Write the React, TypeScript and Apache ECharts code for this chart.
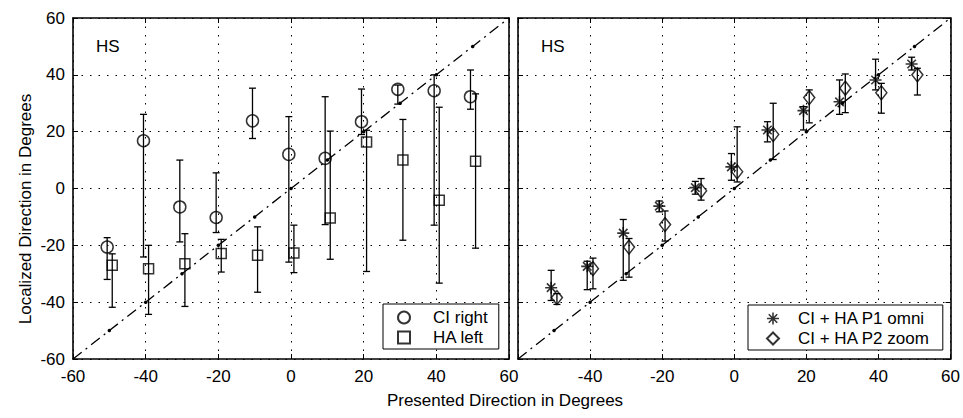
import React, { useEffect, useRef } from "react";
import * as echarts from "echarts";

const presented = [-50, -40, -30, -20, -10, 0, 10, 20, 30, 40, 50];
const axisTicks = [-60, -40, -20, 0, 20, 40, 60];
const identityX = [-60, -50, -40, -30, -20, -10, 0, 10, 20, 30, 40, 50, 60];

// Left panel: CI right (circles)
const ciRightMean = [-20.6, 16.8, -6.5, -10.2, 23.8, 12, 10.6, 23.5, 34.9, 34.4, 32.3];
const ciRightLow = [-32, -24.1, -18.8, -15.5, 17.6, -25.9, -12.7, 19, 29.7, -12.9, 27.9];
const ciRightHigh = [-17.3, 26.1, 10, 5.5, 35.3, 25.3, 32.3, 35, 36.4, 40, 41.7];

// Left panel: HA left (squares)
const haLeftMean = [-27, -28.2, -26.5, -22.9, -23.5, -22.7, -10.4, 16.4, 10, -4.1, 9.6];
const haLeftLow = [-41.8, -44.3, -41.5, -29.4, -36.5, -29.6, -24.9, -29.2, -18.2, -33.3, -21];
const haLeftHigh = [-23, -20, -15.9, -17.9, -13.5, -12.9, 20.2, 20.5, 24.3, 28.6, 33.3];

// Right panel: CI + HA P1 omni (asterisks)
const p1Mean = [-34.9, -27.4, -15.7, -6.2, 0.3, 7.6, 20.6, 27.4, 30.5, 38.2, 43.8];
const p1Low = [-39.4, -35.6, -32.3, -8.2, -2, 2.9, 16.4, 20.6, 26.1, 34.7, 41.7];
const p1High = [-28.8, -25.6, -10.9, -4.4, 2.5, 12.3, 23.5, 28.8, 38.2, 45.5, 46.2];

// Right panel: CI + HA P2 zoom (diamonds)
const p2Mean = [-38.4, -28.2, -20.6, -12.7, -0.8, 5.9, 19, 32, 35.3, 33.7, 40];
const p2Low = [-40.8, -35.3, -31.2, -18.5, -4.1, 2.3, 10.2, 23.1, 26.7, 26.5, 32.9];
const p2High = [-37, -24.5, -17.6, -7.9, 3.5, 21.7, 30, 34.7, 40.3, 37, 42.3];

const FONT = "'Liberation Sans', Arial, Helvetica, sans-serif";
const FS = 17;
const ASTERISK =
  "path://M8.7 0L11.3 0L11.3 20L8.7 20Z M0 8.7L20 8.7L20 11.3L0 11.3Z M3.85 2.0L18.0 16.15L16.15 18.0L2.0 3.85Z M18.0 3.85L3.85 18.0L2.0 16.15L16.15 2.0Z";

const pts = (mean: number[], off: number) => presented.map((x, i) => [x + off, mean[i]]);
const errs = (lo: number[], hi: number[], off: number) =>
  presented.map((x, i) => [x + off, lo[i], hi[i]]);

const errorBarItem = (params: any, api: any) => {
  const x = api.value(0);
  const top = api.coord([x, api.value(2)]);
  const bot = api.coord([x, api.value(1)]);
  const hw = 3.5;
  const style = { stroke: "#000", lineWidth: 1.3 };
  return {
    type: "group",
    children: [
      { type: "line", shape: { x1: top[0], y1: top[1], x2: bot[0], y2: bot[1] }, style },
      { type: "line", shape: { x1: top[0] - hw, y1: top[1], x2: top[0] + hw, y2: top[1] }, style },
      { type: "line", shape: { x1: bot[0] - hw, y1: bot[1], x2: bot[0] + hw, y2: bot[1] }, style },
    ],
  };
};

const lineStyle = { color: "#000", width: 1.6 };
const tickStyle = { show: true, inside: true, length: 5, lineStyle: { color: "#000", width: 1 } };
const splitStyle = { show: true, lineStyle: { color: "#000", width: 1, type: [1.5, 7] } };

function makeX(gridIndex: number, labels: boolean, hideMin: boolean) {
  return [
    {
      type: "value", gridIndex, min: -60, max: 60, interval: 20, position: "bottom",
      axisLine: { show: true, onZero: false, lineStyle },
      axisTick: tickStyle,
      axisLabel: {
        show: labels, color: "#000", fontSize: FS, fontFamily: FONT, margin: 9,
        formatter: (v: number) => (hideMin && v === axisTicks[0] ? "" : String(v)),
      },
      splitLine: splitStyle,
    },
    {
      type: "value", gridIndex, min: -60, max: 60, interval: 20, position: "top",
      axisLine: { show: true, onZero: false, lineStyle },
      axisTick: tickStyle, axisLabel: { show: false }, splitLine: { show: false },
    },
  ];
}
function makeY(gridIndex: number, labels: boolean) {
  return [
    {
      type: "value", gridIndex, min: -60, max: 60, interval: 20, position: "left",
      axisLine: { show: true, onZero: false, lineStyle },
      axisTick: tickStyle,
      axisLabel: { show: labels, color: "#000", fontSize: FS, fontFamily: FONT, margin: 8 },
      splitLine: splitStyle,
    },
    {
      type: "value", gridIndex, min: -60, max: 60, interval: 20, position: "right",
      axisLine: { show: true, onZero: false, lineStyle },
      axisTick: tickStyle, axisLabel: { show: false }, splitLine: { show: false },
    },
  ];
}

function identitySeries(xi: number, yi: number) {
  return {
    type: "line", name: "identity" + xi, xAxisIndex: xi, yAxisIndex: yi,
    data: identityX.map((v) => [v, v]),
    symbol: "circle",
    symbolSize: (v: number[]) => (Math.abs(v[0]) === 60 ? 0 : 3.5),
    itemStyle: { color: "#000" },
    lineStyle: { color: "#000", width: 1.3, type: [11, 5, 2, 5] },
    z: 1, silent: true,
  };
}

function errSeries(name: string, xi: number, yi: number, data: number[][]) {
  return {
    type: "custom", name, xAxisIndex: xi, yAxisIndex: yi, data,
    encode: { x: 0, y: [1, 2] }, renderItem: errorBarItem, z: 2, silent: true,
  };
}

const markerStyle = { color: "rgba(255,255,255,0)", borderColor: "#000", borderWidth: 1.5 };
const legendText = { fontSize: FS, color: "#000", fontFamily: FONT, lineHeight: 17 };

const option = {
  animation: false,
  backgroundColor: "#fff",
  textStyle: { fontFamily: FONT },
  grid: [
    { left: 73, top: 18, width: 436, height: 341 },
    { left: 518, top: 18, width: 434, height: 341 },
  ],
  xAxis: [...makeX(0, true, false), ...makeX(1, true, true)],
  yAxis: [...makeY(0, true), ...makeY(1, false)],
  legend: [
    {
      left: 383, top: 304, orient: "vertical", data: ["CI right", "HA left"],
      itemWidth: 12, itemHeight: 12, itemGap: 3, padding: [5, 11, 3, 14],
      borderColor: "#000", borderWidth: 1, backgroundColor: "#fff", selectedMode: false,
      textStyle: { ...legendText, padding: [0, 0, 0, 18] },
    },
    {
      left: 748, top: 305, orient: "vertical", data: ["CI + HA P1 omni", "CI + HA P2 zoom"],
      itemWidth: 12, itemHeight: 12, itemGap: 3, padding: [5, 13, 3, 18],
      borderColor: "#000", borderWidth: 1, backgroundColor: "#fff", selectedMode: false,
      textStyle: { ...legendText, padding: [0, 0, 0, 14] },
    },
  ],
  graphic: [
    { type: "text", left: 96, top: 38, style: { text: "HS", fontSize: FS, fontFamily: FONT, fill: "#000" } },
    { type: "text", left: 541, top: 38, style: { text: "HS", fontSize: FS, fontFamily: FONT, fill: "#000" } },
    {
      type: "text", x: 25, y: 209, rotation: Math.PI / 2,
      style: { text: "Localized Direction in Degrees", fontSize: FS, fontFamily: FONT, fill: "#000", align: "center", verticalAlign: "middle" },
    },
    {
      type: "text", x: 505, y: 400,
      style: { text: "Presented Direction in Degrees", fontSize: FS, fontFamily: FONT, fill: "#000", align: "center", verticalAlign: "middle" },
    },
  ],
  series: [
    identitySeries(0, 0),
    identitySeries(2, 2),
    errSeries("ciErr", 0, 0, errs(ciRightLow, ciRightHigh, -0.6)),
    errSeries("haErr", 0, 0, errs(haLeftLow, haLeftHigh, 0.8)),
    errSeries("p1Err", 2, 2, errs(p1Low, p1High, -0.8)),
    errSeries("p2Err", 2, 2, errs(p2Low, p2High, 0.8)),
    {
      type: "scatter", name: "CI right", xAxisIndex: 0, yAxisIndex: 0, data: pts(ciRightMean, -0.6),
      symbol: "circle", symbolSize: 12, symbolKeepAspect: true, itemStyle: markerStyle, z: 3,
    },
    {
      type: "scatter", name: "HA left", xAxisIndex: 0, yAxisIndex: 0, data: pts(haLeftMean, 0.8),
      symbol: "rect", symbolSize: 10, symbolKeepAspect: true, itemStyle: markerStyle, z: 3,
    },
    {
      type: "scatter", name: "CI + HA P1 omni", xAxisIndex: 2, yAxisIndex: 2, data: pts(p1Mean, -0.8),
      symbol: ASTERISK, symbolSize: 12, symbolKeepAspect: true, itemStyle: { color: "#000" }, z: 3,
    },
    {
      type: "scatter", name: "CI + HA P2 zoom", xAxisIndex: 2, yAxisIndex: 2, data: pts(p2Mean, 0.8),
      symbol: "diamond", symbolSize: [11, 14], symbolKeepAspect: true, itemStyle: markerStyle, z: 3,
    },
  ],
};

export default function App() {
  const ref = useRef<HTMLDivElement>(null);
  useEffect(() => {
    const chart = echarts.init(ref.current as HTMLDivElement, null, { renderer: "svg" });
    chart.setOption(option as any);
    return () => chart.dispose();
  }, []);
  return (
    <div
      ref={ref}
      style={{ position: "fixed", left: 0, top: 0, width: 963, height: 418, background: "#fff" }}
    />
  );
}
